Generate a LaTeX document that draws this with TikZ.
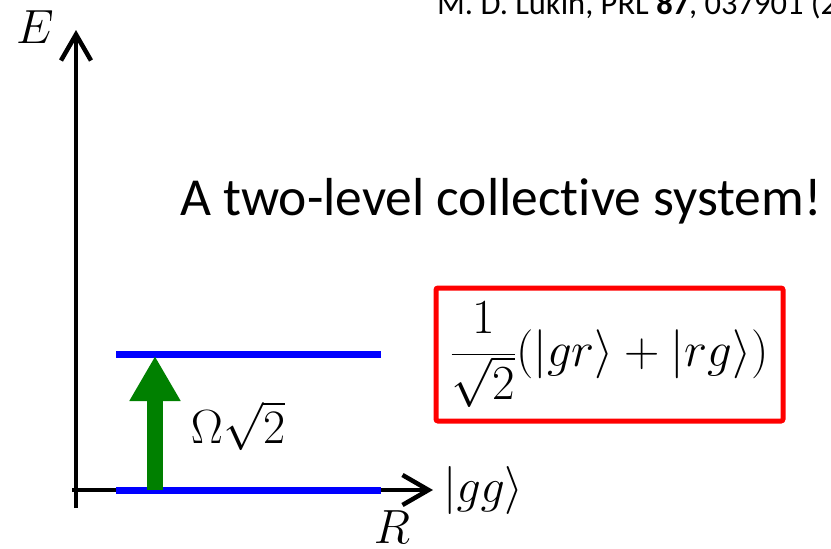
\RequirePackage{fix-cm}
\documentclass[tikz,border=0pt]{standalone}
\usepackage{fontspec}
\newfontfamily\calib[Ligatures={NoCommon}]{Carlito}
\usetikzlibrary{arrows.meta}
\definecolor{darkgreen}{RGB}{0,128,0}
\tikzset{
  axis/.style={line width=4.5pt, -{Straight Barb[length=26pt,width=30pt,line width=4.5pt]}},
  level/.style={line width=7pt, blue},
  pump/.style={line width=16pt, darkgreen, -{Triangle[length=45pt,width=48pt]}},
  mathlbl/.style={inner sep=0pt, font=\fontsize{48}{54}\selectfont},
  statebox/.style={draw=red, line width=5pt, rounded corners=2pt, minimum width=347pt, minimum height=133pt, inner sep=0pt, font=\fontsize{49}{54}\selectfont},
  plain/.style={inner sep=0pt, font=\calib\fontsize{53.5}{60}\selectfont, anchor=base west}
}
\begin{document}
\begin{tikzpicture}[x=1pt,y=-1pt]
\useasboundingbox (0,0) rectangle (831,549);
\clip (0,0) rectangle (831,549);
\fill[white] (0,0) rectangle (831,549);
% axes
\coordinate (o1) at (76,508);
\coordinate (etip) at (76,30);
\coordinate (o2) at (72,490);
\coordinate (rtip) at (433,490);
\draw[axis] (o1) -- (etip);
\draw[axis] (o2) -- (rtip);
% levels
\coordinate (l1a) at (116,490); \coordinate (l1b) at (381,490);
\coordinate (l2a) at (116,354); \coordinate (l2b) at (381,354);
\draw[level] (l1a) -- (l1b);
\draw[level] (l2a) -- (l2b);
% pump arrow
\coordinate (pa) at (155,490); \coordinate (pb) at (155,356);
\draw[pump] (pa) -- (pb);
% labels
\node[mathlbl] (E) at (35,27) {$E$};
\node[mathlbl] (R) at (392,527) {$R$};
\node[mathlbl, anchor=west] (gg) at (443,490) {$|gg\rangle$};
\node[mathlbl] (om) at (238,426) {$\Omega\sqrt{2}$};
\node[statebox] (box) at (609.5,354.5) {$\displaystyle\frac{1}{\sqrt{2}}(|gr\rangle+|rg\rangle)$};
\node[plain] (title) at (180,215) {A two-level collective system!};
\node[inner sep=0pt, anchor=base west, font=\calib\fontsize{32.5}{36}\selectfont] (ref) at (437,14) {M. D. Lukin, PRL \textbf{87}, 037901 (2001)};
\end{tikzpicture}
\end{document}
